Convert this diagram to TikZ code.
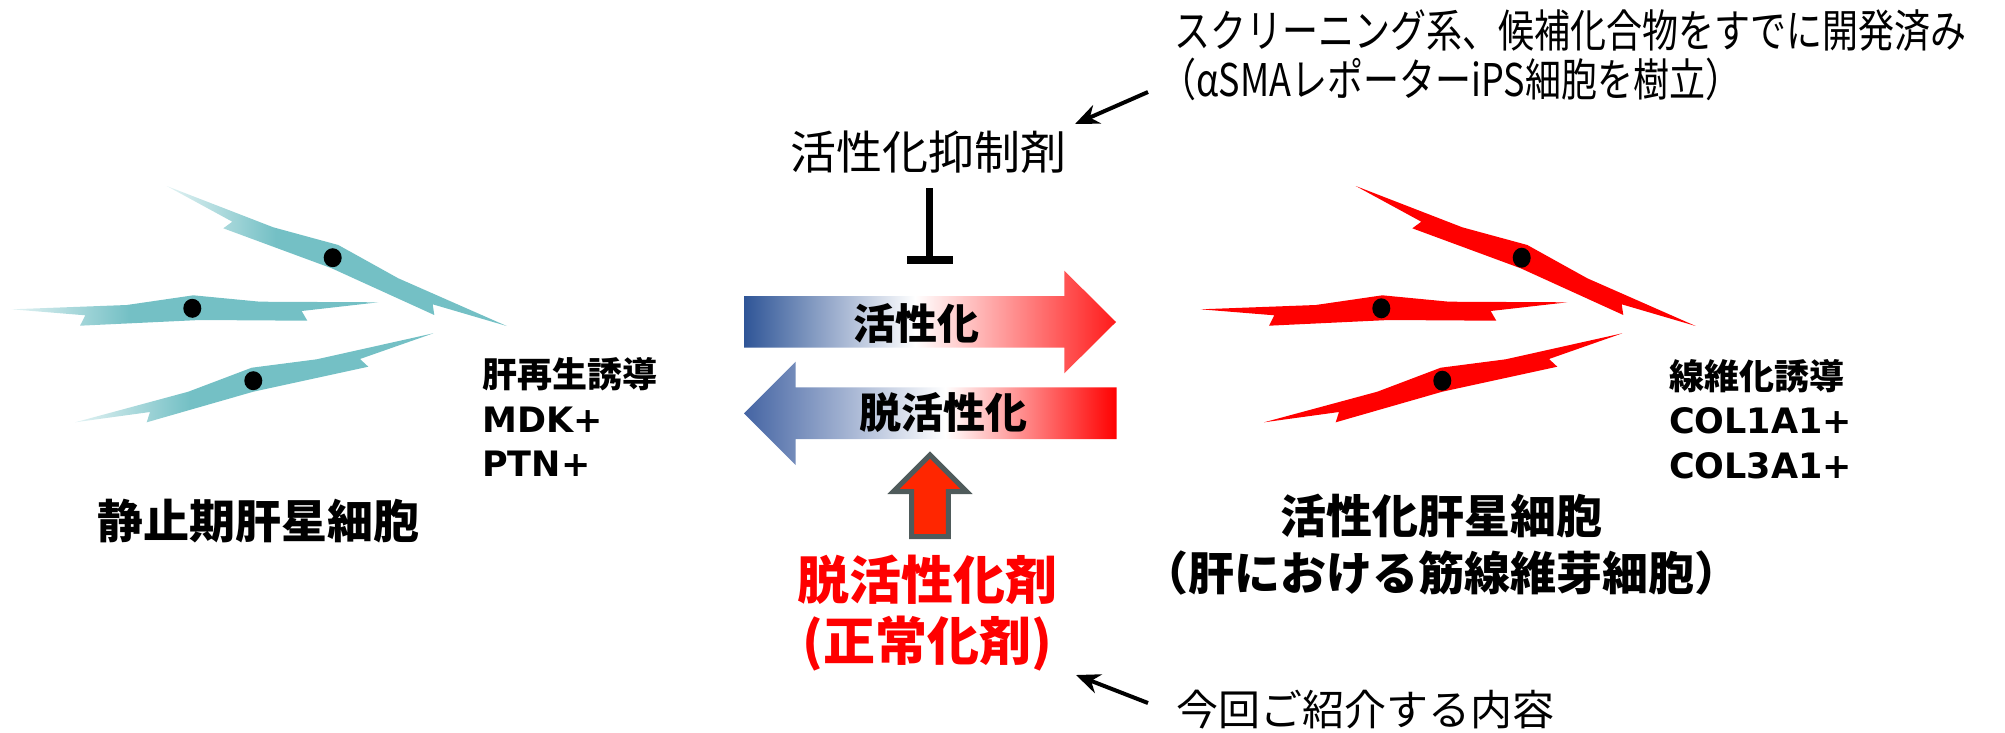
\documentclass[tikz,border=0pt]{standalone}
\usepackage{fontspec}
\newfontfamily\jp{Noto Sans CJK JP}
\newfontfamily\jpcond{Noto Sans CJK JP}[FakeStretch=0.8]
\newfontfamily\latb{DejaVu Sans}
\usetikzlibrary{arrows.meta}

\definecolor{stellate}{HTML}{74C0C5}
\definecolor{stellatepale}{HTML}{E4F3F4}
\definecolor{fibro}{HTML}{FF0000}
\definecolor{gradblue}{HTML}{2F5597}
\definecolor{gradblueB}{HTML}{4464A3}
\definecolor{gradred}{HTML}{FF1A1A}
\definecolor{pushfill}{HTML}{FF2600}
\definecolor{pushedge}{HTML}{4F5B5B}

% shadings: the path's bounding box maps onto 25bp..75bp
\pgfdeclarehorizontalshading{quiescentfade}{100bp}{color(0bp)=(stellatepale); color(25bp)=(stellatepale); color(41bp)=(stellate); color(100bp)=(stellate)}
\pgfdeclarehorizontalshading{activationgrad}{100bp}{color(0bp)=(gradblue); color(25bp)=(gradblue); color(48bp)=(white); color(75bp)=(gradred); color(100bp)=(gradred)}
\pgfdeclarehorizontalshading{reversiongrad}{100bp}{color(0bp)=(gradblueB); color(25bp)=(gradblueB); color(52bp)=(white); color(75bp)=(fibro); color(100bp)=(fibro)}

% outline of the three spindle-shaped cells
\newcommand{\cellA}{(166.7,186) -- (273.3,227.3) -- (338.3,245) -- (398.3,278.3) -- (506.7,326)
  -- (432.7,304.3) -- (434.3,315) -- (331.7,268.3) -- (223.3,228.3) -- (232.3,221.7) -- cycle}
\newcommand{\cellB}{(11.7,309.3) -- (126.7,305) -- (193.3,295.3) -- (260,301.7) -- (378.3,302.3)
  -- (301.7,311) -- (307.3,320.7) -- (200,320) -- (80,325.7) -- (85.3,315.3) -- cycle}
\newcommand{\cellC}{(75,422.3) -- (188.3,391.7) -- (251.7,367.7) -- (316.7,359.3) -- (433.3,333.3)
  -- (360,359) -- (368.3,366.7) -- (253.3,391.7) -- (146.7,422.3) -- (150,412) -- cycle}

\tikzset{
  celltitle/.style={inner sep=0pt, font=\jp\bfseries\fontsize{46}{50}\selectfont},
  markerjp/.style={inner sep=0pt, anchor=west, font=\jp\bfseries\fontsize{35}{40}\selectfont},
  markerlat/.style={inner sep=0pt, anchor=west, font=\latb\bfseries\fontsize{35}{40}\selectfont},
  arrowlabel/.style={inner sep=0pt, font=\jp\bfseries\fontsize{42}{46}\selectfont},
  agentlabel/.style={inner sep=0pt, text=fibro, font=\jp\bfseries\fontsize{52}{56}\selectfont},
  plainlabel/.style={inner sep=0pt, font=\jp\fontsize{46}{50}\selectfont},
  notelabel/.style={inner sep=0pt, anchor=west, font=\jpcond\fontsize{45}{50}\selectfont},
  pointer/.style={line width=4pt, -{Stealth[length=24pt,width=20pt]}},
  inhibit/.style={line width=7.7pt},
  nucleus/.style={fill=black},
}

\begin{document}
\begin{tikzpicture}[x=1pt,y=-1pt]
\useasboundingbox (0,0) rectangle (2005,732);

% ---- quiescent stellate cells ----
\shade[shading=quiescentfade] \cellA;
\shade[shading=quiescentfade] \cellB;
\shade[shading=quiescentfade] \cellC;
\fill[nucleus] (332.7,257.7) ellipse [x radius=9pt, y radius=9.5pt];
\fill[nucleus] (192.3,308.3) ellipse [x radius=9pt, y radius=9.5pt];
\fill[nucleus] (253.3,380.7) ellipse [x radius=9pt, y radius=9.5pt];

% ---- activated stellate cells ----
\begin{scope}[xshift=1189pt]
\fill[fibro] \cellA;
\fill[fibro] \cellB;
\fill[fibro] \cellC;
\fill[nucleus] (332.7,257.7) ellipse [x radius=9pt, y radius=10pt];
\fill[nucleus] (192.3,308.3) ellipse [x radius=9pt, y radius=10pt];
\fill[nucleus] (253.3,380.7) ellipse [x radius=9pt, y radius=10pt];
\end{scope}

% ---- cell labels ----
\node[celltitle] (quiescent) at (258,521) {静止期肝星細胞};
\node[celltitle] (activated) at (1441,516) {活性化肝星細胞};
\node[celltitle] (myofib) at (1441,573) {（肝における筋線維芽細胞）};

\node[markerjp] (regen) at (482,374) {肝再生誘導};
\node[markerlat] (mdk) at (482,420) {MDK+};
\node[markerlat] (ptn) at (482,464) {PTN+};

\node[markerjp] (fibrosis) at (1669,376) {線維化誘導};
\node[markerlat] (col1) at (1669,421) {COL1A1+};
\node[markerlat] (col3) at (1669,466) {COL3A1+};

% ---- activation / reversion arrows ----
\shade[shading=activationgrad] (744,296) -- (1064.3,296) -- (1064.3,270.7) -- (1116,322)
  -- (1064.3,373.3) -- (1064.3,347.7) -- (744,347.7) -- cycle;
\shade[shading=reversiongrad] (744,413.3) -- (795.7,361.7) -- (795.7,387.3) -- (1116.7,387.3)
  -- (1116.7,439) -- (795.7,439) -- (795.7,465) -- cycle;
\node[arrowlabel] (actlabel) at (916,323) {活性化};
\node[arrowlabel] (revlabel) at (943,413) {脱活性化};

% ---- inhibitor ----
\node[plainlabel] (inhibitor) at (928,152) {活性化抑制剤};
\coordinate (stemTop) at (929.5,188);
\coordinate (stemFoot) at (929.5,256);
\coordinate (barL) at (907,259.5);
\coordinate (barR) at (953,259.5);
\draw[inhibit] (stemTop) -- (stemFoot);
\draw[line width=8pt] (barL) -- (barR);

% ---- reversion agent ----
\filldraw[fill=pushfill, draw=pushedge, line width=5pt, miter limit=10]
  (911.7,536.7) -- (911.7,491.7) -- (893.3,491.7) -- (930,455) -- (966.7,491.7)
  -- (948.3,491.7) -- (948.3,536.7) -- cycle;
\node[agentlabel] (agent) at (927,580) {脱活性化剤};
\node[agentlabel] (normalizer) at (927,644) {(正常化剤)};

% ---- notes ----
\node[notelabel] (screen1) at (1174,31) {スクリーニング系、候補化合物をすでに開発済み};
\node[notelabel] (screen2) at (1160,79) {（αSMAレポーターiPS細胞を樹立）};
\coordinate (noteTail) at (1148,92);
\coordinate (noteHead) at (1075,124);
\draw[pointer] (noteTail) -- (noteHead);

\node[inner sep=0pt, anchor=west, font=\jp\fontsize{42}{46}\selectfont] (intro) at (1176,710) {今回ご紹介する内容};
\coordinate (introTail) at (1148,703);
\coordinate (introHead) at (1076,675);
\draw[pointer] (introTail) -- (introHead);
\end{tikzpicture}
\end{document}
